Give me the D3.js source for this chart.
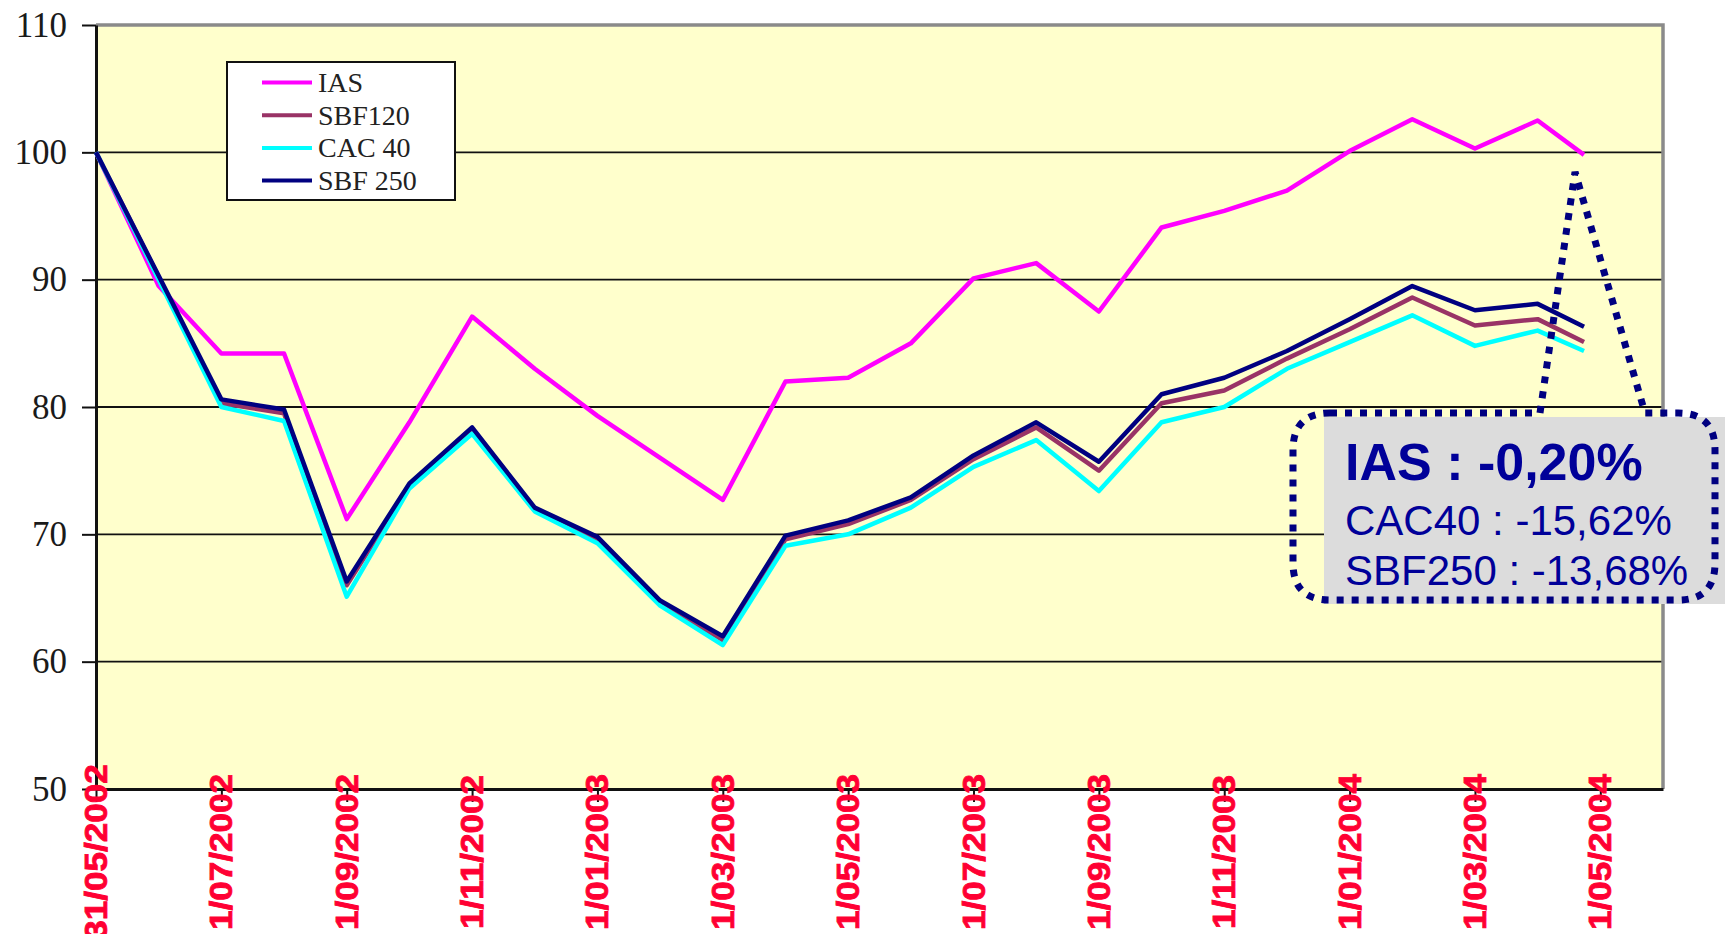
<!DOCTYPE html>
<html>
<head>
<meta charset="utf-8">
<script src="https://cdn.jsdelivr.net/npm/d3@7"></script>
<style>
  html, body { margin: 0; padding: 0; background: #fff; overflow: hidden; }
  svg { display: block; }
</style>
</head>
<body>
<div id="chart"></div>
<script>
// Monthly index values, base 100 on 31/05/2002.
// Position is in months from May 2002; the last point falls before 1/05/2004.
const monthPos = d3.range(24).concat([23.74]);

const ias    = [100, 89.5, 84.2, 84.2, 71.2, 78.8, 87.1, 83.0, 79.3, 76.0, 72.7, 82.0, 82.3,
                85.0, 90.1, 91.3, 87.5, 94.1, 95.4, 97.0, 100.1, 102.6, 100.3, 102.5, 99.8];
const sbf120 = [100, 90.2, 80.3, 79.5, 66.0, 73.8, 78.2, 72.0, 69.6, 64.6, 61.7, 69.6, 70.8,
                72.7, 75.9, 78.4, 75.0, 80.3, 81.3, 83.8, 86.1, 88.6, 86.4, 86.9, 85.1];
const cac40  = [100, 90.0, 80.0, 78.9, 65.1, 73.6, 77.9, 71.8, 69.3, 64.4, 61.3, 69.1, 70.0,
                72.1, 75.3, 77.4, 73.4, 78.8, 80.0, 83.0, 85.1, 87.2, 84.8, 86.0, 84.4];
const sbf250 = [100, 90.3, 80.6, 79.8, 66.3, 74.0, 78.4, 72.1, 69.8, 64.8, 62.0, 69.9, 71.1,
                72.9, 76.2, 78.8, 75.7, 81.0, 82.3, 84.4, 86.9, 89.5, 87.6, 88.1, 86.3];

const seriesNames = ['IAS', 'SBF120', 'CAC 40', 'SBF 250'];
const seriesValues = [ias, sbf120, cac40, sbf250];
const seriesColors = ['#ff00ff', '#993366', '#00ffff', '#000080'];

const xTickPos = [0, 2, 4, 6, 8, 10, 12, 14, 16, 18, 20, 22, 24];
const xTickLabels = ['31/05/2002', '1/07/2002', '1/09/2002', '1/11/2002', '1/01/2003', '1/03/2003',
                     '1/05/2003', '1/07/2003', '1/09/2003', '1/11/2003', '1/01/2004', '1/03/2004', '1/05/2004'];
const yTicks = [50, 60, 70, 80, 90, 100, 110];

const calloutLines = ['IAS : -0,20%', 'CAC40 : -15,62%', 'SBF250 : -13,68%'];

const W = 1725, H = 934;
const plot = { left: 96, right: 1663, top: 25, bottom: 789 };

const svg = d3.select('#chart').append('svg')
  .attr('width', W).attr('height', H);

const x = d3.scaleLinear().domain([0, 25]).range([plot.left, plot.right]);
const y = d3.scaleLinear().domain([50, 110]).range([plot.bottom, plot.top]);

// plot area
svg.append('rect')
  .attr('x', plot.left).attr('y', plot.top)
  .attr('width', plot.right - plot.left).attr('height', plot.bottom - plot.top)
  .attr('fill', '#ffffcc');

// gridlines
svg.append('g')
  .selectAll('line')
  .data(yTicks.filter(v => v > 50 && v < 110))
  .join('line')
  .attr('x1', plot.left).attr('x2', plot.right)
  .attr('y1', d => y(d)).attr('y2', d => y(d))
  .attr('stroke', '#111').attr('stroke-width', 1.8);

// top / right frame (grey)
svg.append('path')
  .attr('d', `M${plot.left},${plot.top}H${plot.right}V${plot.bottom}`)
  .attr('fill', 'none').attr('stroke', '#8a8a8a').attr('stroke-width', 3.5);

// y axis
const yAxis = svg.append('g')
  .attr('transform', `translate(${plot.left},0)`)
  .call(d3.axisLeft(y).tickValues(yTicks).tickSize(14).tickSizeOuter(0).tickPadding(15));
yAxis.select('.domain').attr('stroke', '#111').attr('stroke-width', 3);
yAxis.selectAll('.tick line').attr('stroke', '#111').attr('stroke-width', 2);
yAxis.selectAll('.tick text')
  .attr('fill', '#1a1a1a')
  .style('font-family', '"Liberation Serif", "Times New Roman", serif')
  .style('font-size', '35px');

// series
const line = d3.line()
  .x((d, i) => x(monthPos[i]))
  .y(d => y(d));

svg.append('g')
  .selectAll('path')
  .data(seriesValues)
  .join('path')
  .attr('d', d => line(d))
  .attr('fill', 'none')
  .attr('stroke', (d, i) => seriesColors[i])
  .attr('stroke-width', 4.5)
  .attr('stroke-linejoin', 'round');

// x axis line + ticks
const xAxis = svg.append('g')
  .attr('transform', `translate(0,${plot.bottom})`)
  .call(d3.axisBottom(x).tickValues(xTickPos).tickSize(13).tickSizeOuter(0)
    .tickFormat((d, i) => xTickLabels[i]));
xAxis.select('.domain').attr('stroke', '#111').attr('stroke-width', 3);
xAxis.selectAll('.tick line').attr('stroke', '#111').attr('stroke-width', 2);
xAxis.selectAll('.tick text').remove();

// legend
const legend = svg.append('g').attr('transform', 'translate(227,62)');
legend.append('rect')
  .attr('width', 228).attr('height', 138)
  .attr('fill', '#fff').attr('stroke', '#111').attr('stroke-width', 2);
const items = legend.selectAll('g.item')
  .data(seriesNames)
  .join('g')
  .attr('class', 'item')
  .attr('transform', (d, i) => `translate(0,${20.5 + i * 32.7})`);
items.append('line')
  .attr('x1', 35).attr('x2', 85)
  .attr('stroke', (d, i) => seriesColors[i])
  .attr('stroke-width', 4);
items.append('text')
  .attr('x', 91).attr('y', 9.5)
  .attr('fill', '#222')
  .style('font-family', '"Liberation Serif", "Times New Roman", serif')
  .style('font-size', '28px')
  .text(d => d);

// callout
const last = monthPos.length - 1;
const tip = [x(monthPos[last]) - 9, y(ias[last]) + 17];
const box = { l: 1293, r: 1715, t: 413, b: 600, rad: 37 };

svg.append('rect')
  .attr('x', 1324).attr('y', 417)
  .attr('width', W - 1324).attr('height', 187)
  .attr('fill', '#dcdcdc');

const cp = d3.path();
cp.moveTo(box.l + box.rad, box.t);
cp.lineTo(1540, box.t);
cp.lineTo(tip[0], tip[1]);
cp.lineTo(1645, box.t);
cp.lineTo(box.r - box.rad, box.t);
cp.quadraticCurveTo(box.r, box.t, box.r, box.t + box.rad);
cp.lineTo(box.r, box.b - box.rad);
cp.quadraticCurveTo(box.r, box.b, box.r - box.rad, box.b);
cp.lineTo(box.l + box.rad, box.b);
cp.quadraticCurveTo(box.l, box.b, box.l, box.b - box.rad);
cp.lineTo(box.l, box.t + box.rad);
cp.quadraticCurveTo(box.l, box.t, box.l + box.rad, box.t);
svg.append('path')
  .attr('d', cp.toString())
  .attr('fill', 'none')
  .attr('stroke', '#000080')
  .attr('stroke-width', 7)
  .attr('stroke-dasharray', '7 8');

svg.append('g')
  .selectAll('text')
  .data(calloutLines)
  .join('text')
  .attr('x', 1345)
  .attr('y', (d, i) => [480, 535, 585][i])
  .attr('fill', '#000099')
  .style('font-family', '"Liberation Sans", Arial, sans-serif')
  .style('font-weight', (d, i) => i === 0 ? 'bold' : 'normal')
  .style('font-size', (d, i) => i === 0 ? '52px' : '42px')
  .text(d => d);

// rotated red date labels, drawn on top of the axis line
svg.append('g')
  .selectAll('text')
  .data(xTickPos)
  .join('text')
  .attr('transform', d => `translate(${x(d) + 11},852) rotate(-90) scale(1.15,1)`)
  .attr('text-anchor', 'middle')
  .attr('fill', '#ff0033')
  .attr('stroke', '#ff0033')
  .attr('stroke-width', 0.8)
  .style('font-family', '"Liberation Sans", Arial, sans-serif')
  .style('font-weight', 'bold')
  .style('font-size', '30.5px')
  .text((d, i) => xTickLabels[i]);
</script>
</body>
</html>
